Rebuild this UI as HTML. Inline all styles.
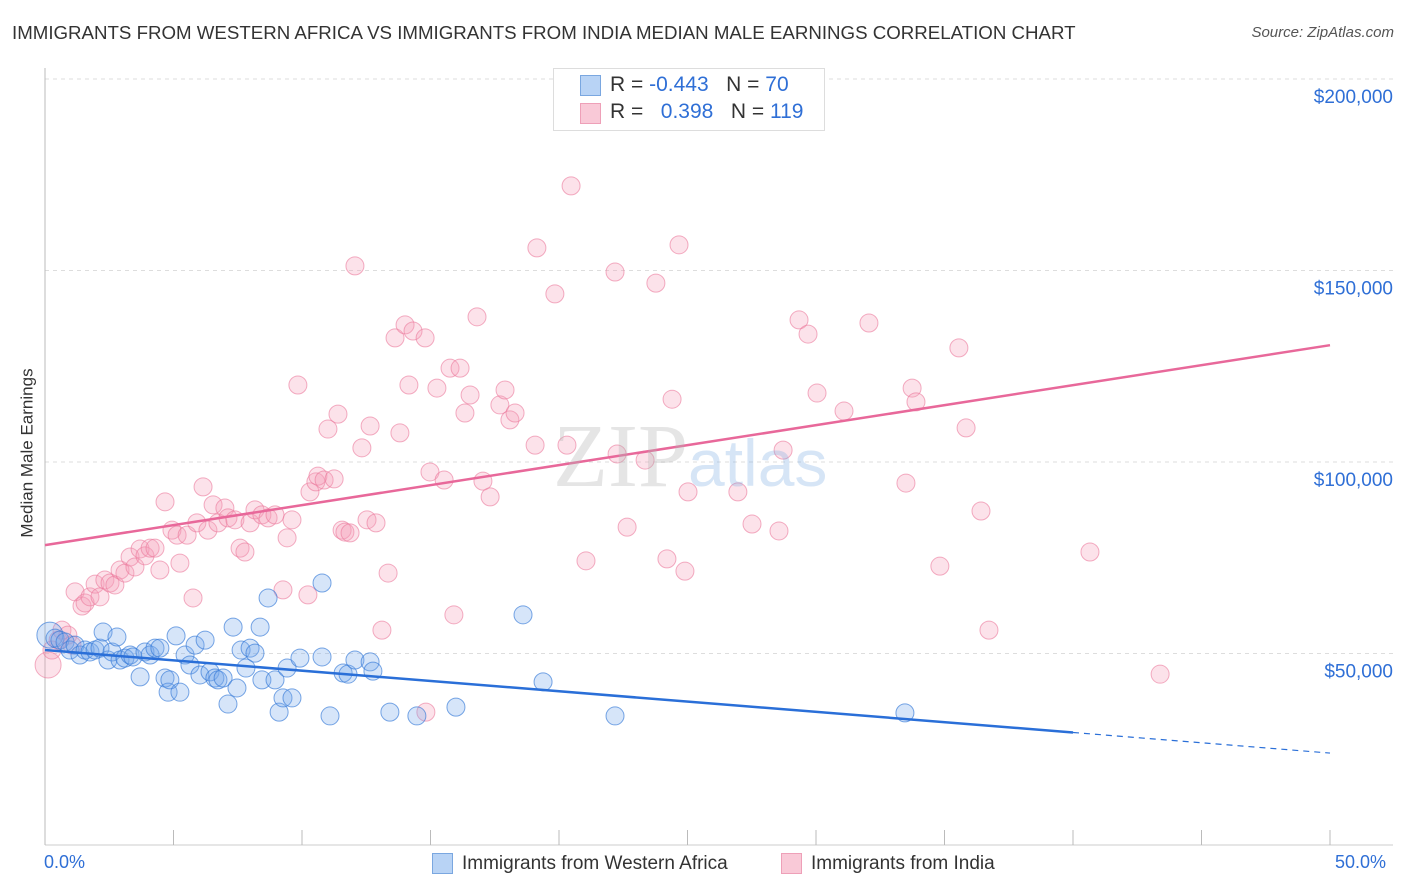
<!DOCTYPE html>
<html><head><meta charset="utf-8"><style>
body{margin:0;background:#fff;font-family:"Liberation Sans",sans-serif}
#wrap{position:relative;width:1406px;height:892px;overflow:hidden}
.t{position:absolute;white-space:nowrap}
</style></head><body>
<div id="wrap">
<div class="t" style="left:12px;top:22px;font-size:18.7px;color:#333">IMMIGRANTS FROM WESTERN AFRICA VS IMMIGRANTS FROM INDIA MEDIAN MALE EARNINGS CORRELATION CHART</div>
<div class="t" style="right:12px;top:24px;font-size:15px;color:#555;font-style:italic">Source: ZipAtlas.com</div>
<div class="t" style="left:-57px;top:443px;font-size:17px;color:#333;transform:rotate(-90deg)">Median Male Earnings</div>
<svg id="svg" width="1406" height="892" style="position:absolute;left:0;top:0"></svg>
<div style="position:absolute;left:553px;top:68px;width:270px;height:61px;border:1px solid #ddd;background:#fff"></div>
<div style="position:absolute;left:580px;top:75px;width:19px;height:19px;background:#b8d3f5;border:1px solid #7aa7e0"></div>
<div style="position:absolute;left:580px;top:103px;width:19px;height:19px;background:#f9c9d7;border:1px solid #eea0b8"></div>
<div class="t" style="left:610px;top:73px;font-size:21px;color:#333">R = <span style="color:#2f6fd6">-0.443</span>&nbsp;&nbsp;&nbsp;N = <span style="color:#2f6fd6">70</span></div>
<div class="t" style="left:610px;top:100px;font-size:21px;color:#333">R = &nbsp;&nbsp;<span style="color:#2f6fd6">0.398</span>&nbsp;&nbsp;&nbsp;N = <span style="color:#2f6fd6">119</span></div>
<div class="t" style="left:553px;top:405px;font-size:90px;color:rgba(180,180,180,0.35);font-family:'Liberation Serif',serif">ZIP<span style="font-family:'Liberation Sans',sans-serif;font-size:66px;color:rgba(120,170,225,0.3)">atlas</span></div>
<div class="t" style="left:44px;top:852px;font-size:18px;color:#2f6fd6">0.0%</div>
<div class="t" style="left:1335px;top:852px;font-size:18px;color:#2f6fd6">50.0%</div>
<div style="position:absolute;left:432px;top:853px;width:19px;height:19px;background:#b8d3f5;border:1px solid #7aa7e0"></div>
<div class="t" style="left:462px;top:853px;font-size:19px;color:#333">Immigrants from Western Africa</div>
<div style="position:absolute;left:781px;top:853px;width:19px;height:19px;background:#f9c9d7;border:1px solid #eea0b8"></div>
<div class="t" style="left:811px;top:853px;font-size:19px;color:#333">Immigrants from India</div>
</div>
<script>
const yTicks=[50,100,150,200];
const yTickLabels=["$50,000","$100,000","$150,000","$200,000"];
const xTicks=[0,5,10,15,20,25,30,35,40,45,50];
const blueX=[0.19,0.39,0.58,0.78,0.97,1.17,1.36,1.56,1.75,1.95,2.14,2.26,2.45,2.61,2.80,2.92,3.11,3.31,3.42,3.70,3.89,4.09,4.28,4.47,4.67,4.79,4.86,5.10,5.25,5.45,5.64,5.84,6.03,6.23,6.42,6.61,6.73,6.93,7.12,7.32,7.47,7.63,7.82,7.98,8.17,8.37,8.44,8.68,8.95,9.11,9.26,9.42,9.61,9.92,10.78,10.78,11.09,11.60,11.79,12.06,12.65,12.76,13.42,14.47,15.99,18.60,19.38,22.18,33.46];
const blueY=[54.8,54.0,53.5,53.0,50.9,52.2,49.6,50.9,50.4,50.9,51.4,55.6,48.3,50.4,54.3,48.3,48.8,49.6,49.1,43.9,50.4,49.6,51.4,51.4,43.6,39.9,43.1,54.6,39.9,49.6,47.0,52.2,44.4,53.5,45.2,43.6,43.1,43.6,36.8,56.9,41.0,50.9,46.2,51.4,50.1,56.9,43.1,64.5,43.1,34.7,38.4,46.2,38.4,48.8,49.1,68.4,33.7,44.9,44.6,48.3,47.8,45.4,34.7,33.7,36.0,60.1,42.6,33.7,34.5];
const pinkX=[0.12,0.27,0.51,0.66,0.89,1.05,1.17,1.44,1.56,1.75,1.95,2.14,2.33,2.53,2.72,2.92,3.11,3.31,3.50,3.70,3.89,4.09,4.28,4.47,4.67,4.94,5.14,5.25,5.53,5.76,5.91,6.15,6.34,6.54,6.73,7.00,7.12,7.39,7.59,7.78,7.98,8.17,8.44,8.68,8.95,9.26,9.42,9.61,9.84,10.23,10.31,10.54,10.62,10.86,11.01,11.25,11.40,11.56,11.67,11.87,12.06,12.33,12.53,12.65,12.88,13.11,13.35,13.62,13.81,14.01,14.16,14.32,14.79,14.82,14.98,15.25,15.53,15.76,15.91,16.15,16.34,16.54,16.81,17.04,17.32,17.70,17.90,18.09,18.29,19.07,19.14,19.84,20.31,20.47,21.05,22.18,22.26,22.65,23.35,23.77,24.20,24.40,24.67,24.90,25.02,26.96,27.51,28.56,28.72,29.34,29.69,30.04,31.09,32.06,33.50,33.74,33.89,34.82,35.56,35.84,36.42,36.73,40.66,43.39];
const pinkY=[47.0,50.9,53.5,56.1,54.8,52.2,66.1,62.4,63.2,64.8,68.1,64.8,69.2,68.4,67.9,71.8,71.0,75.2,72.6,77.3,75.5,77.5,77.5,71.8,89.6,82.2,80.9,73.6,80.9,64.5,84.1,93.5,82.2,88.8,84.1,88.0,85.4,84.9,77.5,76.5,84.1,87.5,86.2,85.4,86.2,66.6,80.2,84.9,120.1,65.3,92.2,94.8,96.3,95.3,108.6,95.6,112.5,82.2,81.7,81.5,151.2,103.7,84.9,109.4,84.1,56.1,71.0,132.4,107.6,135.8,120.1,134.2,132.4,34.7,97.4,119.3,95.3,124.5,60.1,124.5,112.8,117.5,137.9,95.0,90.9,114.9,118.8,111.0,112.8,104.4,155.9,143.9,104.4,172.1,74.2,149.6,102.1,83.0,100.5,146.7,74.7,116.4,156.7,71.5,92.2,92.2,83.8,82.0,103.1,137.1,133.4,118.0,113.3,136.3,94.5,119.3,115.7,72.8,129.8,108.9,87.2,56.1,76.5,44.6];
const blueTrend=[50.9,24.0];
const pinkTrend=[78.3,130.5];
const blueSolidEnd=40;

const X=p=>45+p*25.7, Y=k=>845-k*3.83;
const svg=document.getElementById('svg'),NS='http://www.w3.org/2000/svg';
function mk(t,a){const e=document.createElementNS(NS,t);for(const k in a)e.setAttribute(k,a[k]);svg.appendChild(e);return e;}
yTicks.forEach((v,i)=>{
  const g=mk('line',{x1:45,x2:1393,y1:Y(v),y2:Y(v),stroke:'#ddd','stroke-dasharray':'4,4'});
  
  
  const t=mk('text',{x:1393,y:Y(v)+24,'text-anchor':'end','font-size':19,fill:'#2f6fd6','font-family':'Liberation Sans, sans-serif'});
  t.textContent=yTickLabels[i];
  
  
});
const ax=mk('line',{x1:45,x2:45,y1:68,y2:845,stroke:'#bbb'});


const bx=mk('line',{x1:45,x2:1393,y1:845,y2:845,stroke:'#ccc'});


xTicks.forEach(p=>{
  const l=mk('line',{x1:X(p),x2:X(p),y1:830,y2:845,stroke:'#bbb'});
  
  
});
function dots(xs,ys,fill,stroke,name){
  xs.forEach((x,i)=>{
    const c=mk('circle',{cx:X(x),cy:Y(ys[i]),r:i===0?13:9,fill:fill,stroke:stroke,'stroke-width':1});
    
    
  });
}
dots(pinkX,pinkY,'rgba(245,160,185,0.3)','rgba(235,120,155,0.6)','india-point');
dots(blueX,blueY,'rgba(120,170,235,0.3)','rgba(50,120,215,0.65)','western-africa-point');
const bt=p=>blueTrend[0]+(blueTrend[1]-blueTrend[0])*p/50;
const l1=mk('line',{x1:X(0),y1:Y(bt(0)),x2:X(blueSolidEnd),y2:Y(bt(blueSolidEnd)),stroke:'#2a6fd8','stroke-width':2.5});


const l2=mk('line',{x1:X(blueSolidEnd),y1:Y(bt(blueSolidEnd)),x2:X(50),y2:Y(bt(50)),stroke:'#2a6fd8','stroke-width':1.2,'stroke-dasharray':'6,5'});


const l3=mk('line',{x1:X(0),y1:Y(pinkTrend[0]),x2:X(50),y2:Y(pinkTrend[1]),stroke:'#e8689a','stroke-width':2.5});


</script>
</body></html>
